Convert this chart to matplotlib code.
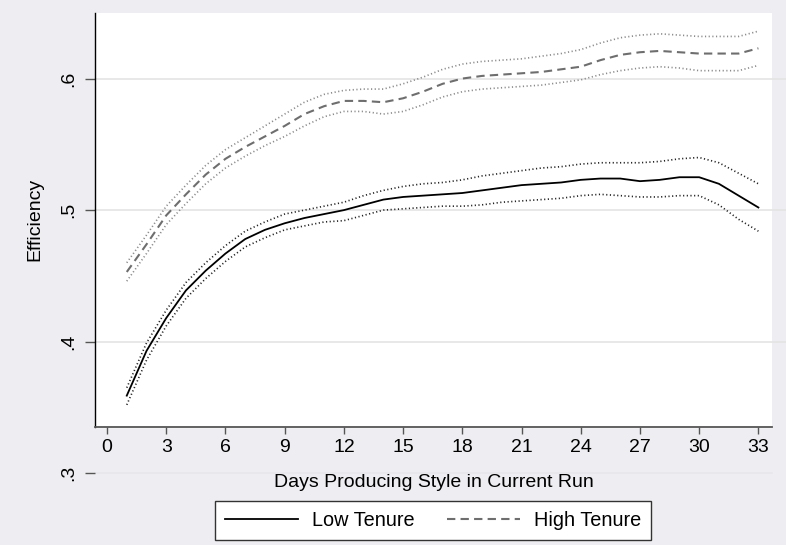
import matplotlib
matplotlib.use("Agg")
import matplotlib.pyplot as plt

plt.rcParams['font.family'] = ['Liberation Sans', 'DejaVu Sans']

# days in current run
days = list(range(1, 34))

# Low tenure: fitted efficiency and confidence band
low_fit = [.359, .393, .418, .439, .454, .467, .478, .485, .490, .494, .497, .500,
           .504, .508, .510, .511, .512, .513, .515, .517, .519, .520, .521, .523,
           .524, .524, .522, .523, .525, .525, .520, .511, .502]
low_hi = [.365, .399, .424, .445, .460, .473, .484, .491, .497, .500, .503, .506,
          .511, .515, .518, .520, .521, .523, .526, .528, .530, .532, .533, .535,
          .536, .536, .536, .537, .539, .540, .536, .528, .520]
low_lo = [.352, .386, .412, .433, .448, .461, .472, .479, .485, .488, .491, .492,
          .496, .500, .501, .502, .503, .503, .504, .506, .507, .508, .509, .511,
          .512, .511, .510, .510, .511, .511, .504, .493, .484]

# High tenure: fitted efficiency and confidence band
high_fit = [.453, .474, .496, .512, .527, .539, .548, .556, .564, .573, .579, .583,
            .583, .582, .585, .590, .596, .600, .602, .603, .604, .605, .607, .609,
            .614, .618, .620, .621, .620, .619, .619, .619, .623]
high_hi = [.460, .481, .503, .519, .534, .546, .555, .564, .573, .582, .588, .591,
           .592, .592, .596, .601, .607, .611, .613, .614, .615, .617, .619, .622,
           .627, .631, .633, .634, .633, .632, .632, .632, .636]
high_lo = [.446, .467, .489, .505, .520, .532, .541, .549, .556, .564, .571, .575,
           .575, .573, .575, .580, .586, .590, .592, .593, .594, .595, .597, .599,
           .603, .606, .608, .609, .608, .606, .606, .606, .610]

xticks = list(range(0, 34, 3))
yticks = [.3, .4, .5, .6]
ytick_labels = [".3", ".4", ".5", ".6"]

bg = '#EEEDF1'
grid_c = '#e4e4e4'
x_axis_at = 0.3352   # where the x axis sits on the y scale

fig = plt.figure(figsize=(7.86, 5.45), dpi=100, facecolor=bg)
ax = fig.add_axes([0.1209, 0.1268, 0.8613, 0.8493])
ax.set_facecolor(bg)
ax.axhspan(x_axis_at, 0.6498, color='white', zorder=0)

dots = (0, (0.7, 1.5))
ax.plot(days, low_hi, color='#222222', lw=1.2, ls=dots)
ax.plot(days, low_lo, color='#222222', lw=1.2, ls=dots)
ax.plot(days, high_hi, color='#8a8a8a', lw=1.2, ls=dots)
ax.plot(days, high_lo, color='#8a8a8a', lw=1.2, ls=dots)
l1, = ax.plot(days, low_fit, color='black', lw=1.3, label='Low Tenure')
l2, = ax.plot(days, high_fit, color='#6e6e6e', lw=1.5, ls=(0, (4, 2.5)),
              label='High Tenure')

ax.set_xlim(-0.608, 33.69)
ax.set_ylim(0.298, 0.6498)

ax.set_xticks(xticks)
ax.set_yticks(yticks)
ax.set_yticklabels(ytick_labels, rotation=90, va='center')
ax.tick_params(axis='x', direction='out', length=5, width=1, color='#555555',
               labelsize=14, pad=4)
ax.tick_params(axis='y', direction='out', length=7, width=1, color='#555555',
               labelsize=14, pad=6)

# grid lines, running on to the right edge; the .3 one is faint
for yv in yticks:
    c = '#e7e6ea' if yv == .3 else grid_c
    ax.plot([0.0, 1.03 if yv > .3 else 1.0], [yv, yv], color=c, lw=1.2,
            clip_on=False, transform=ax.get_yaxis_transform(), zorder=0.2)

for s in ['top', 'right']:
    ax.spines[s].set_visible(False)
ax.spines['bottom'].set_position(('data', x_axis_at))
ax.spines['bottom'].set_color('#555555')
ax.spines['bottom'].set_linewidth(1.3)
ax.spines['left'].set_bounds(x_axis_at, 0.6498)
ax.spines['left'].set_color('black')
ax.spines['left'].set_linewidth(1.0)

ax.set_xlabel("Days Producing Style in Current Run", fontsize=14)
ax.xaxis.set_label_coords(0.5, 0.005)
ax.set_ylabel("Efficiency", fontsize=14)
ax.yaxis.set_label_coords(-0.077, 0.553)

leg = fig.legend(handles=[l1, l2], loc='center', ncol=2,
                 bbox_to_anchor=(433 / 786, 1 - 520.5 / 545),
                 fontsize=14.3, frameon=True, fancybox=False, framealpha=1,
                 edgecolor='#333333', handlelength=3.7, handletextpad=0.7,
                 columnspacing=1.6, borderpad=0.5)
leg.get_frame().set_linewidth(1.0)

fig.savefig("out.png", dpi=100, facecolor=bg)
